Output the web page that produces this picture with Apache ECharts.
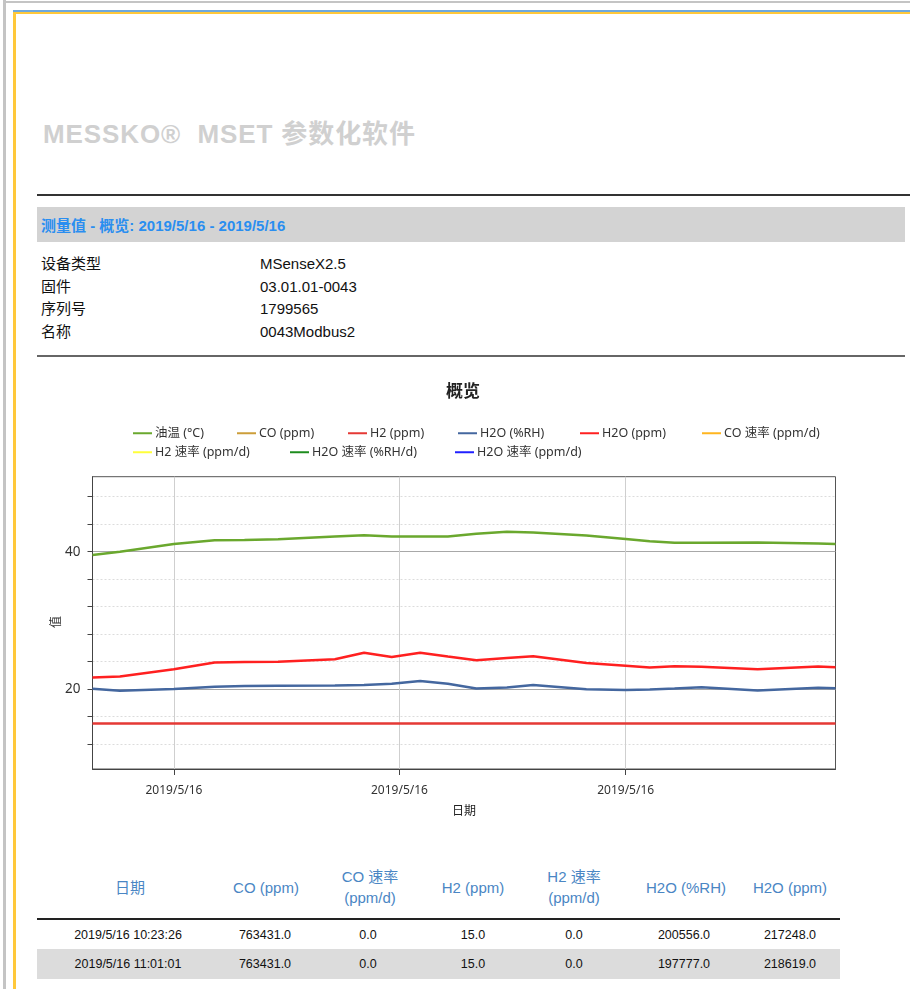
<!DOCTYPE html>
<html>
<head>
<meta charset="utf-8">
<script src="https://cdn.jsdelivr.net/npm/echarts@6/dist/echarts.min.js"></script>
<style>
  html, body { margin:0; padding:0; background:#fff; }
  body { width:910px; height:989px; position:relative; overflow:hidden;
         font-family:"Liberation Sans", Arial, "Noto Sans CJK SC", sans-serif; }
  .abs { position:absolute; }
  .hdr { position:absolute; width:140px; text-align:center; color:#4a86c4; font-size:15px; line-height:21px; }
  .cell { position:absolute; width:150px; text-align:center; color:#111; font-size:12.5px; line-height:16px; }
</style>
</head>
<body>
<!-- page frame -->
<div class="abs" style="left:3px;top:0;width:3px;height:989px;background:#c4c4c4"></div>
<div class="abs" style="left:3px;top:1px;width:907px;height:2px;background:#c4c4c4"></div>
<div class="abs" style="left:13px;top:10px;width:897px;height:2px;background:#6fa8dc"></div>
<div class="abs" style="left:13px;top:12px;width:897px;height:2px;background:#ffc83a"></div>
<div class="abs" style="left:13px;top:12px;width:3px;height:977px;background:#ffc83a"></div>

<div class="abs" style="left:43px;top:113px;font-size:26px;font-weight:bold;color:#d0d0d0;white-space:nowrap;letter-spacing:0.9px">MESSKO®&nbsp; MSET 参数化软件</div>
<div class="abs" style="left:37px;top:194px;width:873px;height:2px;background:#333"></div>

<div class="abs" style="left:37px;top:207px;width:868px;height:35px;background:#d3d3d3"></div>
<div class="abs" style="left:41px;top:214px;font-size:15px;font-weight:bold;color:#2a8ef0;white-space:nowrap">测量值 - 概览: 2019/5/16 - 2019/5/16</div>

<div id="info"></div>
<div class="abs" style="left:37px;top:355px;width:868px;height:2px;background:#666"></div>

<div id="chart" class="abs" style="left:0;top:360px;width:910px;height:480px"></div>

<div id="table"></div>

<script>
// ---------- data ----------
const infoLabels = ['设备类型', '固件', '序列号', '名称'];
const infoValues = ['MSenseX2.5', '03.01.01-0043', '1799565', '0043Modbus2'];

const times = [
  '2019-05-16T10:23:26', '2019-05-16T11:01:01', '2019-05-16T12:15:00', '2019-05-16T13:11:00',
  '2019-05-16T13:52:00', '2019-05-16T14:38:00', '2019-05-16T15:56:00', '2019-05-16T16:36:00',
  '2019-05-16T17:14:00', '2019-05-16T17:53:00', '2019-05-16T18:31:00', '2019-05-16T19:10:00',
  '2019-05-16T19:52:00', '2019-05-16T20:28:00', '2019-05-16T21:41:00', '2019-05-16T22:35:00',
  '2019-05-16T23:08:00', '2019-05-16T23:42:00', '2019-05-17T00:19:00', '2019-05-17T01:36:00',
  '2019-05-17T02:59:00', '2019-05-17T03:22:50'
];
const oilTemp = [39.5, 40.0, 41.1, 41.65, 41.7, 41.8, 42.2, 42.4, 42.2, 42.2, 42.2, 42.6,
                 42.9, 42.8, 42.35, 41.85, 41.5, 41.3, 41.3, 41.35, 41.2, 41.1];
const h2oPpm  = [21.72, 21.86, 22.9, 23.87, 23.95, 24.0, 24.35, 25.3, 24.7, 25.3, 24.75, 24.2,
                 24.55, 24.8, 23.8, 23.4, 23.15, 23.35, 23.25, 22.9, 23.3, 23.2];
const h2oRH   = [20.06, 19.78, 20.04, 20.35, 20.45, 20.5, 20.55, 20.6, 20.8, 21.2, 20.8, 20.1,
                 20.25, 20.6, 20.0, 19.9, 19.95, 20.1, 20.3, 19.8, 20.2, 20.15];
const h2Ppm   = [15, 15, 15, 15, 15, 15, 15, 15, 15, 15, 15, 15, 15, 15, 15, 15, 15, 15, 15, 15, 15, 15];
const coPpm   = [76.34, 76.34, 76.34, 76.34, 76.34, 76.34, 76.34, 76.34, 76.34, 76.34, 76.34, 76.34,
                 76.34, 76.34, 76.34, 76.34, 76.34, 76.34, 76.34, 76.34, 76.34, 76.34];
const zeroRate = [0, 0, 0, 0, 0, 0, 0, 0, 0, 0, 0, 0, 0, 0, 0, 0, 0, 0, 0, 0, 0, 0];

const seriesNames = ['油温 (°C)', 'CO (ppm)', 'H2 (ppm)', 'H2O (%RH)', 'H2O (ppm)',
                     'CO 速率 (ppm/d)', 'H2 速率 (ppm/d)', 'H2O 速率 (%RH/d)', 'H2O 速率 (ppm/d)'];
const seriesValues = [oilTemp, coPpm, h2Ppm, h2oRH, h2oPpm, zeroRate, zeroRate, zeroRate, zeroRate];

const yAxisTitle = '值';
const yMin = 8.4, yMax = 50.9;
const yMinorTicks = [12, 16, 20, 24, 28, 32, 36, 40, 44, 48];
const yLabels = [20, 40];
const xTicks = ['2019-05-16T12:15:14', '2019-05-16T17:24:38', '2019-05-16T22:34:56'];

const tableHeaders = ['日期', 'CO (ppm)', 'CO 速率<br>(ppm/d)', 'H2 (ppm)', 'H2 速率<br>(ppm/d)', 'H2O (%RH)', 'H2O (ppm)'];
const tableRows = [
  ['2019/5/16 10:23:26', '763431.0', '0.0', '15.0', '0.0', '200556.0', '217248.0'],
  ['2019/5/16 11:01:01', '763431.0', '0.0', '15.0', '0.0', '197777.0', '218619.0']
];

// ---------- info block ----------
(function () {
  const el = document.getElementById('info');
  let html = '';
  infoLabels.forEach((l, i) => {
    const top = 254 + i * 22.5;
    html += `<div class="abs" style="left:41px;top:${top}px;font-size:15px;line-height:19px;color:#111">${l}</div>`;
    html += `<div class="abs" style="left:260px;top:${top}px;font-size:15px;line-height:19px;color:#111">${infoValues[i]}</div>`;
  });
  el.innerHTML = html;
})();

// ---------- table ----------
(function () {
  const el = document.getElementById('table');
  const centers = [130, 266, 370, 473, 574, 686, 790];
  let html = '';
  tableHeaders.forEach((h, i) => {
    const twoLine = h.indexOf('<br>') >= 0;
    const top = twoLine ? 866 : 877;
    html += `<div class="hdr" style="left:${centers[i] - 70}px;top:${top}px">${h}</div>`;
  });
  html += `<div class="abs" style="left:37px;top:918px;width:803px;height:2px;background:#222"></div>`;
  html += `<div class="abs" style="left:37px;top:949px;width:803px;height:30px;background:#dcdcdc"></div>`;
  const rowCenters = [128, 265, 368, 473, 574, 684, 790];
  tableRows.forEach((r, ri) => {
    const top = 927 + ri * 29;
    r.forEach((v, ci) => {
      html += `<div class="cell" style="left:${rowCenters[ci] - 75}px;top:${top}px">${v}</div>`;
    });
  });
  el.innerHTML = html;
})();

// ---------- chart ----------
const toMs = s => new Date(s).getTime();
const colors = ['#6aa82e', '#cc9e3a', '#e53935', '#44679f', '#ff2020', '#ffb51f', '#ffff3a', '#1e8c1e', '#2020ff'];
const legendPos = [[133, 67], [237, 67], [348, 67], [458, 67], [580, 67], [702, 67],
                   [133, 86], [290, 86], [455, 86]];

const chart = echarts.init(document.getElementById('chart'), null, { renderer: 'canvas' });
const fmtDate = v => { const d = new Date(v); return d.getFullYear() + '/' + (d.getMonth() + 1) + '/' + d.getDate(); };
const xTickMs = xTicks.map(toMs);

const option = {
  animation: false,
  color: colors,
  title: {
    text: '概览', left: 441, top: 17,
    textStyle: { fontSize: 17, fontWeight: 'bold', color: '#222', fontFamily: 'Noto Sans CJK SC' }
  },
  graphic: [{
    type: 'text', x: 55, y: 262, rotation: Math.PI / 2,
    style: { text: yAxisTitle, fontSize: 12, fill: '#333', align: 'center', verticalAlign: 'middle',
             fontFamily: 'Noto Sans CJK SC' }
  }],
  legend: seriesNames.map((n, i) => ({
    data: [n], left: legendPos[i][0], top: legendPos[i][1], padding: 0,
    icon: 'rect', itemWidth: 19, itemHeight: 2, itemGap: 4,
    textStyle: { fontSize: 12.5, color: '#333', fontFamily: 'Noto Sans, Noto Sans CJK SC', padding: [0, 0, 0, -2] },
    selectedMode: false
  })),
  grid: {
    left: 92.5, top: 116.7, width: 743, height: 292.3,
    show: true, borderColor: '#555', borderWidth: 1, backgroundColor: 'transparent'
  },
  xAxis: {
    type: 'value', min: toMs(times[0]), max: toMs(times[times.length - 1]),
    name: '日期', nameLocation: 'middle', nameGap: 35,
    nameTextStyle: { fontSize: 12, color: '#222', fontFamily: 'Noto Sans CJK SC' },
    axisLine: { lineStyle: { color: '#444' } },
    axisTick: { customValues: xTickMs, length: 6, lineStyle: { color: '#444' } },
    axisLabel: { customValues: xTickMs, formatter: v => fmtDate(v), fontSize: 12, color: '#333', margin: 16,
                 fontFamily: 'Noto Sans', showMinLabel: true, showMaxLabel: true },
    splitLine: { show: true, lineStyle: { color: '#cfcfcf', width: 1 } }
  },
  yAxis: [{
    type: 'value', min: yMin, max: yMax,
    axisLine: { show: true, lineStyle: { color: '#444' } },
    axisTick: { show: true, customValues: yMinorTicks, length: 5, lineStyle: { color: '#444' } },
    axisLabel: { customValues: yLabels, fontSize: 13.5, color: '#333', margin: 12, fontFamily: 'Noto Sans' },
    splitLine: { show: true, lineStyle: { color: '#dcdcdc', type: [2, 2], width: 1 } }
  }, {
    type: 'value', min: yMin, max: yMax, position: 'left',
    axisLine: { show: false },
    axisTick: { show: false, customValues: yLabels },
    axisLabel: { show: false, customValues: yLabels },
    splitLine: { show: true, lineStyle: { color: '#a8a8a8', width: 1 } }
  }],
  series: seriesNames.map((n, i) => ({
    name: n, type: 'line', yAxisIndex: 0,
    data: times.map((t, k) => [toMs(t), seriesValues[i][k]]),
    showSymbol: false, smooth: false, clip: true,
    lineStyle: { width: 2.5, color: colors[i] },
    itemStyle: { color: colors[i] }
  }))
};
chart.setOption(option);
</script>
</body>
</html>
